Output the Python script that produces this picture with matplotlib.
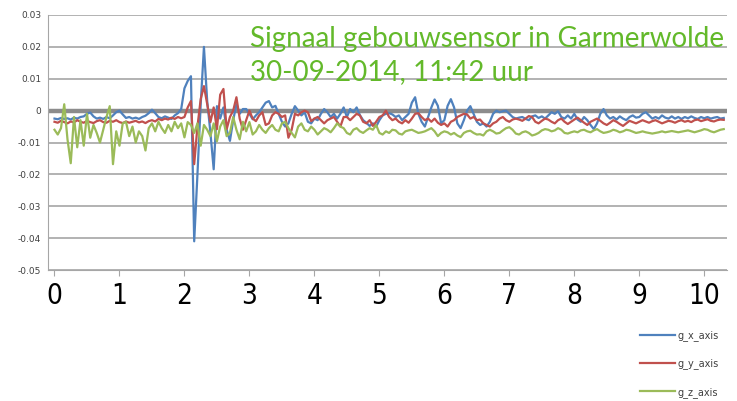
import matplotlib.pyplot as plt
import numpy as np

# readings in thousandths of g, one sample every 0.05 s
g_x_axis = [
    -2.5, -2.7, -2.3, -2.6, -2.4, -2.8, -2.2, -2.5, -2.0, -1.8,
    -1.0, -0.6, -1.8, -2.5, -2.2, -2.6, -2.0, -2.4, -1.5, -0.5,
    0.0, -1.2, -2.3, -2.0, -2.5, -2.2, -2.6, -2.0, -1.6, -0.8,
    0.3, -0.8, -2.0, -2.4, -1.8, -2.2, -2.6, -1.5, -0.8, 0.5,
    7.0, 9.3, 10.8, -41.0, -20.0, 2.0, 20.0, 3.0, -7.0, -18.4,
    1.4, -2.5, 1.0, -6.0, -9.5, -3.0, 2.0, -1.0, 0.5, 0.5,
    -1.0, -2.7, -1.5, -0.5, 1.0, 2.5, 3.0, 1.0, 1.5, -1.0,
    -3.5, -5.0, -4.0, -1.0, 1.4, 0.0, -1.5, -0.5, -3.5, -4.0,
    -2.5, -3.0, -1.0, 0.5, -0.5, -2.0, -1.0, -2.5, -1.0, 1.0,
    -2.0, 0.5, -0.5, 1.0, -1.4, -3.0, -3.8, -4.8, -4.0, -5.0,
    -3.0, -1.5, -1.0, -0.8, -1.2, -2.0, -1.5, -3.0, -2.0, -1.0,
    2.5, 4.2, -1.0, -3.5, -5.0, -2.0, 1.0, 3.5, 1.5, -4.0,
    -3.0, 1.5, 3.6, 1.0, -4.0, -5.5, -3.0, 0.0, 1.4, -1.0,
    -3.5, -4.5, -4.0, -5.0, -3.5, -1.0, 0.0, -0.5, -0.2, 0.0,
    -1.0, -2.0, -2.5, -2.2, -2.0, -2.6, -3.0, -1.8, -1.5, -2.3,
    -1.8, -2.5, -1.5, -0.5, -1.0, -0.2, -2.0, -2.5, -1.5, -2.5,
    -1.0, -2.8, -3.5, -2.0, -3.0, -4.5, -5.8, -4.0, -1.0, 0.5,
    -1.5, -2.5, -2.0, -2.8, -1.8, -2.5, -3.0, -2.0, -1.5, -2.2,
    -2.0, -1.0, -0.5, -1.5, -2.5, -2.0, -2.5, -1.5, -2.2, -2.5,
    -1.8, -2.5, -2.0, -2.6, -2.0, -2.4, -1.8, -2.3, -2.6, -2.0,
    -2.4, -2.0, -2.5, -2.2, -2.0, -2.5, -2.3,
]
g_y_axis = [
    -3.5, -3.8, -3.2, -3.6, -4.0, -3.4, -3.7, -3.0, -3.5, -3.8,
    -3.2, -3.6, -3.9, -3.3, -3.0, -3.6, -3.8, -3.2, -3.5, -3.0,
    -3.6, -3.9, -3.4, -3.8, -3.5, -3.2, -3.7, -3.4, -3.9, -3.3,
    -3.0, -3.4, -2.6, -3.0, -2.5, -2.8, -2.2, -2.6, -2.0, -2.4,
    -2.0, 1.0, 3.0, -16.8, -5.0, 3.6, 7.7, 2.0, -3.6, 1.0,
    -5.8, 5.0, 6.8, -5.8, -2.0, 0.0, 4.2, -2.5, -6.0, -3.0,
    0.0, -2.5, -3.3, -1.5, -0.5, -4.5, -4.0, -1.5, -0.5, -1.0,
    -2.0, -1.5, -8.5, -6.0, -1.0, -1.5, -0.5, 0.0, -0.5, -3.3,
    -2.5, -2.0, -3.0, -4.0, -3.0, -2.5, -2.0, -3.5, -5.0, -2.0,
    -2.0, -3.0, -2.0, -1.0, -1.5, -3.5, -4.0, -3.0, -4.8, -3.5,
    -2.0, -1.5, 0.0, -2.0, -3.0, -2.5, -3.5, -4.0, -3.0, -3.8,
    -2.5, -1.0, -0.8, -2.0, -3.0, -2.5, -3.5, -2.5, -3.8, -4.5,
    -4.0, -5.0, -3.5, -3.0, -2.0, -1.5, -1.0, -1.2, -2.5, -2.0,
    -3.0, -2.8, -4.0, -4.5, -5.0, -4.0, -3.5, -2.5, -2.0, -3.0,
    -3.5, -2.8, -2.5, -2.8, -3.2, -2.5, -1.7, -2.0, -3.5, -4.0,
    -3.2, -2.5, -2.8, -3.5, -4.0, -3.0, -2.5, -3.5, -4.2, -3.5,
    -2.8, -2.2, -3.0, -3.8, -4.5, -3.5, -3.0, -2.5, -3.2, -4.0,
    -4.5, -3.8, -3.0, -3.5, -4.2, -4.8, -4.0, -3.2, -3.6, -4.0,
    -3.5, -3.0, -3.4, -3.8, -3.3, -3.0, -3.5, -4.0, -3.6, -3.2,
    -3.4, -3.8, -3.3, -3.0, -3.5, -3.2, -3.6, -3.0, -2.8, -3.3,
    -3.0, -2.7, -3.2, -3.4, -3.0, -2.8, -2.9,
]
g_z_axis = [
    -6.0, -7.5, -5.5, 2.0, -9.0, -16.5, -2.0, -11.5, -3.0, -11.0,
    -1.0, -8.5, -4.5, -7.0, -10.0, -6.0, -2.0, 1.4, -16.8, -6.5,
    -11.0, -4.0, -3.5, -8.0, -5.0, -10.0, -6.5, -8.0, -12.5, -5.5,
    -4.0, -6.5, -3.5, -5.5, -7.0, -4.5, -6.5, -3.5, -5.5, -4.0,
    -8.4, -3.6, -4.5, -7.0, -4.0, -11.0, -4.5, -6.0, -8.0, -4.0,
    -9.6, -5.0, -3.0, -8.0, -7.0, -2.0, -6.0, -9.0, -3.5, -6.5,
    -3.6, -7.5, -6.5, -4.5, -6.0, -7.0, -5.5, -4.5, -6.0, -6.5,
    -4.0, -3.5, -5.5, -7.0, -8.4, -5.0, -4.0, -6.0, -6.5, -5.0,
    -6.0, -7.5, -6.5, -5.5, -6.0, -6.8, -5.5, -4.0, -5.0, -5.5,
    -7.0, -7.5, -6.0, -5.5, -6.5, -7.0, -6.2, -5.5, -6.0, -4.5,
    -7.0, -7.5, -6.5, -7.0, -6.0, -6.2, -7.2, -7.5, -6.5, -6.2,
    -6.0, -6.5, -7.0, -6.8, -6.5, -6.0, -5.5, -6.5, -8.0, -7.0,
    -6.5, -6.8, -7.5, -7.0, -7.8, -8.3, -7.0, -6.5, -6.3, -7.0,
    -7.5, -7.4, -7.8, -6.5, -6.0, -6.5, -7.2, -7.0, -6.2, -5.5,
    -5.2, -6.0, -7.2, -7.5, -6.8, -6.5, -7.0, -7.8, -7.5, -7.0,
    -6.2, -5.8, -6.0, -6.5, -6.2, -5.5, -6.0, -7.0, -7.2, -6.8,
    -6.5, -6.8, -6.2, -6.0, -6.5, -6.8, -6.2, -5.8, -6.5, -7.0,
    -6.8, -6.5, -6.0, -6.3, -6.8, -6.5, -6.0, -6.2, -6.6, -7.0,
    -6.8, -6.5, -6.8, -7.0, -7.2, -7.0, -6.8, -6.5, -6.8, -6.6,
    -6.4, -6.6, -6.8, -6.6, -6.4, -6.2, -6.5, -6.8, -6.5, -6.2,
    -5.8, -6.0, -6.5, -6.8, -6.4, -6.0, -5.8,
]
series_names = ['g_x_axis', 'g_y_axis', 'g_z_axis']
series_colors = ['#4f81bd', '#c0504d', '#9bbb59']
dt = 0.05
y_ticks = [0.03, 0.02, 0.01, 0, -0.01, -0.02, -0.03, -0.04, -0.05]
x_ticks = list(range(11))

fig = plt.figure(figsize=(7.37, 4.01), dpi=100)
ax = fig.add_axes([48/737, 1-270/401, 679/737, 255/401])

for vals, name, col in zip([g_x_axis, g_y_axis, g_z_axis], series_names, series_colors):
    v = np.array(vals) * 0.001
    t = np.arange(len(v)) * dt
    ax.plot(t, v, color=col, lw=1.6, label=name, zorder=3)

ax.set_xlim(-0.1, 10.35)
ax.set_ylim(-0.05, 0.03)
ax.set_yticks(y_ticks)
ax.set_yticklabels(['%g' % v for v in y_ticks], fontsize=6.5, color='#404040')
ax.set_xticks(x_ticks)
ax.set_xticklabels([str(x) for x in x_ticks], fontsize=20,
                   family='DejaVu Sans', fontstretch='condensed')
ax.tick_params(axis='y', length=0, pad=5)
ax.tick_params(axis='x', length=4, color='#a6a6a6', pad=5)
for y in y_ticks:
    if y != 0:
        ax.axhline(y, color='#a6a6a6', lw=1.2, zorder=1)
ax.axhline(0, color='#8c8c8c', lw=3.2, zorder=2)
for s in ['top', 'right']:
    ax.spines[s].set_visible(False)
ax.spines['left'].set_color('#a6a6a6')
ax.spines['bottom'].set_color('#a6a6a6')

fig.text(250/737, 1-47/401, 'Signaal gebouwsensor in Garmerwolde', color='#63b92a',
         fontsize=20, family='Lato', va='baseline')
fig.text(250/737, 1-80/401, '30-09-2014, 11:42 uur', color='#63b92a',
         fontsize=20, family='Lato', va='baseline')

fig.legend(loc='upper left', bbox_to_anchor=(640/737, 1-330/401), frameon=False,
           fontsize=7, handlelength=3.6, handletextpad=0.25, labelspacing=1.8,
           borderpad=0, borderaxespad=0, labelcolor='#404040')

plt.savefig('out.png', dpi=100)
